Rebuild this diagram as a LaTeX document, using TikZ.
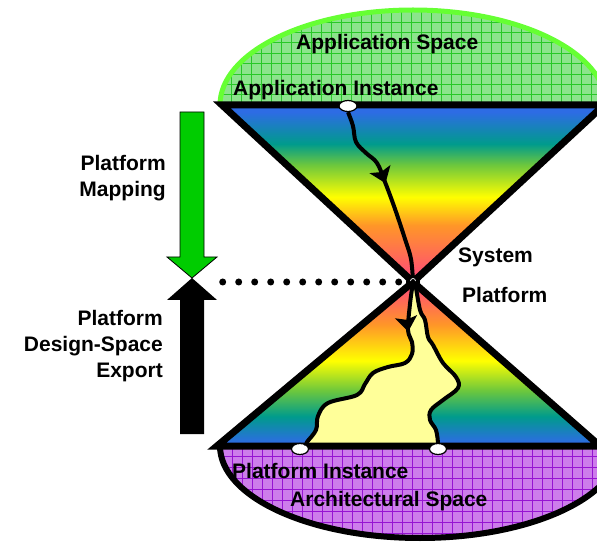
\documentclass[tikz,border=0pt]{standalone}
\usepackage{fontspec}
\setmainfont{Liberation Sans}
\usetikzlibrary{arrows.meta,shapes.geometric,decorations.markings}

\definecolor{appfill}{RGB}{140,228,140}
\definecolor{appgrid}{RGB}{40,200,40}
\definecolor{apprim}{RGB}{102,255,51}
\definecolor{archfill}{RGB}{205,125,235}
\definecolor{archgrid}{RGB}{150,20,210}
\definecolor{hblue}{RGB}{45,108,228}
\definecolor{hteal}{RGB}{0,155,140}
\definecolor{hgreen}{RGB}{110,200,60}
\definecolor{hyellow}{RGB}{255,255,0}
\definecolor{horange}{RGB}{255,150,40}
\definecolor{hpink}{RGB}{255,70,125}
\definecolor{pathfill}{RGB}{255,255,153}
\definecolor{mapgreen}{RGB}{0,204,0}

% rainbow of the upper cone: pink at the apex, blue at the rim
\pgfdeclareverticalshading{uppercone}{100bp}{color(0bp)=(hpink); color(25bp)=(hpink);
  color(41bp)=(horange); color(49bp)=(hyellow); color(58bp)=(hgreen);
  color(64bp)=(hteal); color(73bp)=(hblue); color(100bp)=(hblue)}
% rainbow of the lower cone: blue at the base, pink at the apex
\pgfdeclareverticalshading{lowercone}{100bp}{color(0bp)=(hblue); color(26bp)=(hblue);
  color(34bp)=(hteal); color(42bp)=(hgreen); color(51bp)=(hyellow);
  color(62bp)=(horange); color(75bp)=(hpink); color(100bp)=(hpink)}

\begin{document}
\begin{tikzpicture}[x=1pt,y=1pt,
  lbl/.style={font=\fontsize{21}{26}\selectfont\bfseries, inner sep=0pt},
  cone/.style={line width=7pt, line join=miter},
  portdot/.style={ellipse, draw=black, line width=1.2pt, fill=white,
                  minimum width=17pt, minimum height=11pt, inner sep=0pt},
  trail/.style={line width=4pt, line join=round},
  arrowmark/.style={postaction={decorate}, decoration={markings,
      mark=at position #1 with {\arrow{Stealth[length=15pt,width=22pt,inset=3pt]}}}},
  blockarrow/.style={draw=black, line width=0.8pt}
]
\useasboundingbox (0,0) rectangle (597,544);
\clip (0,0) rectangle (597,544);

% application space: gridded upper half-ellipse
\begin{scope}
  \clip (220,439) arc[start angle=180,end angle=0,x radius=193,y radius=95] -- cycle;
  \fill[appfill] (200,420) rectangle (620,544);
  \draw[appgrid, line width=0.9pt, xstep=10, ystep=10.4, shift={(1.7,2)}] (190,420) grid (620,544);
\end{scope}
\draw[apprim, line width=5pt] (220,439) arc[start angle=180,end angle=0,x radius=193,y radius=95];

% architectural space: gridded lower half-ellipse
\begin{scope}
  \clip (220,98) arc[start angle=180,end angle=360,x radius=200,y radius=92] -- cycle;
  \fill[archfill] (200,0) rectangle (620,110);
  \draw[archgrid, line width=0.9pt, xstep=10, ystep=10.9, shift={(2.7,0)}] (190,0) grid (620,110);
\end{scope}
\draw[line width=6pt] (220,98) arc[start angle=180,end angle=360,x radius=200,y radius=92];

% the two cones
\path[shading=uppercone] (413,262) -- (222,439) -- (604,439) -- cycle;
\path[shading=lowercone] (413,262) -- (217,98) -- (600,98) -- cycle;

% platform design space inside the lower cone
\fill[pathfill]
  plot[smooth, tension=0.6] coordinates {(413,262) (410,240) (408,214) (412,202) (412,190)
     (405,181) (388,177) (373,171) (365,160) (357,149) (328,141) (318,128) (316,114) (307,102) (300,96)}
  -- plot[smooth, tension=0.6] coordinates {(440,96) (436,114) (430,124) (431,134) (443,144)
     (458,156) (456,167) (443,181) (433,199) (428,207) (425,224) (420,234) (415,261)}
  -- cycle;

\draw[cone] (413,262) -- (222,439) -- (604,439) -- cycle;
\draw[cone] (413,262) -- (217,98) -- (600,98) -- cycle;

% instances and the system platform point
\node[portdot, minimum width=18pt] (appinst) at (348,438) {};
\node[circle, fill=black, minimum size=14pt, inner sep=0pt] (apex) at (413,262) {};
\node[portdot] (platl) at (300,95) {};
\node[portdot] (platr) at (438,95) {};

% mapping trail from the application instance down to the platform
\draw[trail, arrowmark=83pt] plot[smooth, tension=0.6] coordinates {(appinst.south) (353,418) (356,402)
   (366,391) (377,381) (385,362) (395,335) (405,305) (411,285) (apex.center)};

% boundaries of the exported design space
\draw[trail, arrowmark=50pt] plot[smooth, tension=0.6] coordinates {(apex.center) (410,240) (408,214)
   (412,202) (412,190) (405,181) (388,177) (373,171) (365,160) (357,149) (328,141) (318,128)
   (316,114) (307,102) (platl.north east)};
\draw[trail] plot[smooth, tension=0.6] coordinates {(apex.center) (415,261) (420,234) (425,224)
   (428,207) (433,199) (443,181) (456,167) (458,156) (443,144) (431,134) (430,124) (436,114)
   (platr.north)};

\draw[white, line width=0.7pt] ([shift={(-2.5,1)}]apex.center) arc[start angle=180,end angle=0,radius=2.5];

% dotted level of the system platform
\coordinate (dotstart) at (222.7,262);
\draw[line width=7pt, line cap=round, dash pattern=on 0pt off 16pt] (dotstart) -- (apex.west);

% block arrows
\filldraw[fill=mapgreen, blockarrow] (180,432) -- (204,432) -- (204,287) -- (217,287)
   -- (192,266) -- (167,287) -- (180,287) -- cycle;
\fill[black] (180,110) -- (204,110) -- (204,244) -- (217,244) -- (192,266)
   -- (167,244) -- (180,244) -- cycle;

% labels
\node[lbl, anchor=base west] (appspace) at (296,494) {Application Space};
\node[lbl, anchor=base west] (appinsttext) at (233,448) {Application Instance};
\node[lbl, anchor=base west] (platinsttext) at (232,66) {Platform Instance};
\node[lbl, anchor=base west] (archspace) at (290,38) {Architectural Space};
\node[lbl, anchor=base west] (systext) at (458,281) {System};
\node[lbl, anchor=base west] (plattext) at (462,241) {Platform};
\node[lbl, align=right, anchor=north east] (maplabel) at (166,389) {Platform\\Mapping};
\node[lbl, align=right, anchor=north east] (exportlabel) at (163,234) {Platform\\Design-Space\\Export};
\end{tikzpicture}
\end{document}
